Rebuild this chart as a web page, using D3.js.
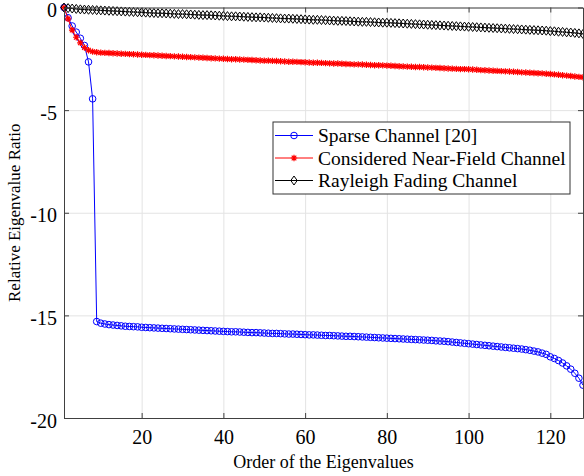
<!DOCTYPE html>
<html>
<head>
<meta charset="utf-8">
<script src="https://cdn.jsdelivr.net/npm/d3@7"></script>
<style>
  body { margin: 0; background: #fff; }
  text { font-family: "Liberation Serif", "Times New Roman", serif; fill: #000; }
</style>
</head>
<body>
<div id="chart"></div>
<script>
// order of the eigenvalues: 1..128
const order = d3.range(1, 129)

const sparse = [
  0, -0.5, -0.9, -1.2, -1.5, -1.85, -2.65, -4.45, -15.3, -15.38,
  -15.42, -15.45, -15.47, -15.49, -15.51, -15.53, -15.54, -15.55, -15.56, -15.58,
  -15.59, -15.60, -15.61, -15.62, -15.63, -15.64, -15.65, -15.66, -15.67, -15.68,
  -15.69, -15.70, -15.71, -15.72, -15.73, -15.74, -15.75, -15.76, -15.77, -15.78,
  -15.79, -15.80, -15.80, -15.81, -15.82, -15.83, -15.84, -15.84, -15.85, -15.86,
  -15.87, -15.88, -15.88, -15.89, -15.90, -15.91, -15.91, -15.92, -15.93, -15.94,
  -15.95, -15.95, -15.96, -15.97, -15.98, -15.98, -15.99, -16.00, -16.01, -16.02,
  -16.02, -16.03, -16.04, -16.05, -16.06, -16.07, -16.08, -16.09, -16.10, -16.11,
  -16.12, -16.13, -16.14, -16.15, -16.16, -16.17, -16.18, -16.19, -16.20, -16.21,
  -16.22, -16.24, -16.25, -16.26, -16.28, -16.30, -16.32, -16.34, -16.36, -16.38,
  -16.40, -16.42, -16.44, -16.46, -16.48, -16.50, -16.52, -16.54, -16.56, -16.58,
  -16.60, -16.62, -16.64, -16.67, -16.70, -16.74, -16.78, -16.84, -16.90, -17.02,
  -17.10, -17.20, -17.32, -17.46, -17.62, -17.82, -18.06, -18.40
]

const nearField = [
  0, -0.55, -1.1, -1.45, -1.72, -1.95, -2.08, -2.15, -2.18, -2.20,
  -2.21, -2.22, -2.23, -2.24, -2.25, -2.26, -2.27, -2.28, -2.29, -2.30,
  -2.31, -2.32, -2.33, -2.34, -2.35, -2.36, -2.37, -2.38, -2.39, -2.40,
  -2.41, -2.42, -2.43, -2.44, -2.45, -2.46, -2.47, -2.48, -2.49, -2.50,
  -2.51, -2.52, -2.52, -2.53, -2.54, -2.55, -2.56, -2.57, -2.58, -2.59,
  -2.59, -2.60, -2.61, -2.62, -2.63, -2.64, -2.64, -2.65, -2.66, -2.67,
  -2.68, -2.69, -2.69, -2.70, -2.71, -2.72, -2.73, -2.73, -2.74, -2.75,
  -2.76, -2.77, -2.77, -2.78, -2.79, -2.80, -2.81, -2.81, -2.82, -2.83,
  -2.84, -2.85, -2.86, -2.87, -2.88, -2.89, -2.90, -2.90, -2.91, -2.92,
  -2.93, -2.94, -2.95, -2.96, -2.97, -2.98, -2.99, -3.00, -3.00, -3.01,
  -3.02, -3.03, -3.05, -3.06, -3.07, -3.08, -3.09, -3.10, -3.11, -3.12,
  -3.13, -3.14, -3.16, -3.17, -3.18, -3.19, -3.20, -3.21, -3.23, -3.24,
  -3.26, -3.28, -3.30, -3.32, -3.34, -3.36, -3.38, -3.40
]

const rayleigh = [
  0, -0.03, -0.05, -0.07, -0.09, -0.10, -0.11, -0.12, -0.13, -0.14,
  -0.15, -0.16, -0.17, -0.18, -0.19, -0.20, -0.21, -0.22, -0.23, -0.24,
  -0.25, -0.26, -0.27, -0.28, -0.28, -0.29, -0.30, -0.31, -0.32, -0.32,
  -0.33, -0.34, -0.35, -0.36, -0.37, -0.37, -0.38, -0.39, -0.40, -0.41,
  -0.42, -0.43, -0.43, -0.44, -0.45, -0.46, -0.47, -0.48, -0.48, -0.49,
  -0.50, -0.51, -0.52, -0.53, -0.54, -0.54, -0.55, -0.56, -0.57, -0.58,
  -0.59, -0.60, -0.60, -0.61, -0.62, -0.63, -0.64, -0.65, -0.65, -0.66,
  -0.67, -0.68, -0.69, -0.70, -0.70, -0.71, -0.72, -0.73, -0.74, -0.74,
  -0.75, -0.76, -0.77, -0.78, -0.79, -0.80, -0.81, -0.82, -0.83, -0.84,
  -0.85, -0.86, -0.87, -0.88, -0.89, -0.90, -0.91, -0.92, -0.93, -0.94,
  -0.95, -0.96, -0.97, -0.98, -0.99, -1.00, -1.01, -1.02, -1.03, -1.04,
  -1.05, -1.06, -1.07, -1.08, -1.09, -1.10, -1.11, -1.12, -1.13, -1.15,
  -1.16, -1.18, -1.19, -1.21, -1.22, -1.24, -1.26, -1.29
]

const xTicks = [20, 40, 60, 80, 100, 120]
const yTicks = [0, -5, -10, -15, -20]
const seriesNames = ["Sparse Channel [20]", "Considered Near-Field Channel", "Rayleigh Fading Channel"]

const margin = { top: 7.5, right: 1, bottom: 58, left: 64 }
const W = 584, H = 476
const width = W - margin.left - margin.right
const height = H - margin.top - margin.bottom
const serif = "'Liberation Serif', 'Times New Roman', serif"

const x = d3.scaleLinear().domain([1, 128]).range([0, width])
const y = d3.scaleLinear().domain([-20, 0]).range([height, 0])

const svg = d3.select("#chart")
    .append("svg")
    .attr("width", W)
    .attr("height", H)
    .append("g")
    .attr("transform", `translate(${margin.left},${margin.top})`)

// grid
svg.append("g")
    .attr("transform", `translate(0,${height})`)
    .call(d3.axisBottom(x).tickValues(xTicks).tickSize(-height).tickFormat(""))
    .call(g => g.select(".domain").remove())
    .selectAll("line").attr("stroke", "#e3e3e3")
svg.append("g")
    .call(d3.axisLeft(y).tickValues(yTicks).tickSize(-width).tickFormat(""))
    .call(g => g.select(".domain").remove())
    .selectAll("line").attr("stroke", "#e3e3e3")

// lines + markers
const series = [
    { name: seriesNames[0], values: sparse, color: "#0000ff", marker: "circle" },
    { name: seriesNames[1], values: nearField, color: "#ff0000", marker: "star" },
    { name: seriesNames[2], values: rayleigh, color: "#000000", marker: "diamond" }
]

const line = d3.line()
    .x((d, i) => x(order[i]))
    .y(d => y(d))

function drawMarker(g, type, color) {
    if (type === "circle") {
        g.append("circle").attr("r", 3.3).attr("fill", "none")
            .attr("stroke", color).attr("stroke-width", 1)
    } else if (type === "star") {
        g.append("path")
            .attr("d", "M-3.2,0L3.2,0M0,-3.2L0,3.2M-2.3,-2.3L2.3,2.3M-2.3,2.3L2.3,-2.3")
            .attr("fill", "none").attr("stroke", color).attr("stroke-width", 1.2)
    } else {
        g.append("path")
            .attr("d", "M0,-4.5L3.2,0L0,4.5L-3.2,0Z")
            .attr("fill", "none").attr("stroke", color).attr("stroke-width", 1)
    }
}

series.forEach(s => {
    svg.append("path")
        .datum(s.values)
        .attr("fill", "none")
        .attr("stroke", s.color)
        .attr("stroke-width", 1)
        .attr("d", line)

    s.values.forEach((v, i) => {
        const g = svg.append("g").attr("transform", `translate(${x(order[i])},${y(v)})`)
        drawMarker(g, s.marker, s.color)
    })
})

// axes box
const axisColor = "#404040"
svg.append("g")
    .attr("transform", `translate(0,${height})`)
    .call(d3.axisBottom(x).tickValues(xTicks).tickSizeInner(-5).tickSizeOuter(0).tickPadding(12).tickFormat(d => String(d)))
    .call(g => g.selectAll("text").attr("y", 12).style("font-family", serif).style("font-size", "20px"))
    .call(g => g.selectAll("line, .domain").attr("stroke", axisColor))
svg.append("g")
    .call(d3.axisLeft(y).tickValues(yTicks).tickSizeInner(-5).tickSizeOuter(0).tickFormat(d => String(d)))
    .call(g => g.selectAll("text").attr("x", -7).attr("dy", "0.45em").style("font-family", serif).style("font-size", "20px"))
    .call(g => g.selectAll("line, .domain").attr("stroke", axisColor))
svg.append("g")
    .call(d3.axisTop(x).tickValues(xTicks).tickSizeInner(-5).tickSizeOuter(0).tickFormat(""))
    .call(g => g.selectAll("line, .domain").attr("stroke", axisColor))
svg.append("g")
    .attr("transform", `translate(${width},0)`)
    .call(d3.axisRight(y).tickValues(yTicks).tickSizeInner(-5).tickSizeOuter(0).tickFormat(""))
    .call(g => g.selectAll("line, .domain").attr("stroke", axisColor))

// axis titles
svg.append("text")
    .attr("x", width / 2)
    .attr("y", height + 50)
    .attr("text-anchor", "middle")
    .style("font-size", "18px")
    .text("Order of the Eigenvalues")
svg.append("text")
    .attr("transform", `translate(${-margin.left + 20},${height / 2}) rotate(-90)`)
    .attr("text-anchor", "middle")
    .style("font-size", "17px")
    .text("Relative Eigenvalue Ratio")

// legend
const legend = svg.append("g").attr("transform", `translate(${273 - margin.left},${122 - margin.top})`)
legend.append("rect")
    .attr("width", 297)
    .attr("height", 72)
    .attr("fill", "#fff")
    .attr("stroke", "#333")
    .attr("stroke-width", 1)
series.forEach((s, i) => {
    const row = legend.append("g").attr("transform", `translate(0,${13.5 + i * 22.5})`)
    row.append("line").attr("x1", 2).attr("x2", 40).attr("stroke", s.color).attr("stroke-width", 1)
    drawMarker(row.append("g").attr("transform", "translate(21,0)"), s.marker, s.color)
    row.append("text")
        .attr("x", 45)
        .attr("dy", "0.34em")
        .style("font-size", "19.5px")
        .text(s.name)
})
</script>
</body>
</html>
